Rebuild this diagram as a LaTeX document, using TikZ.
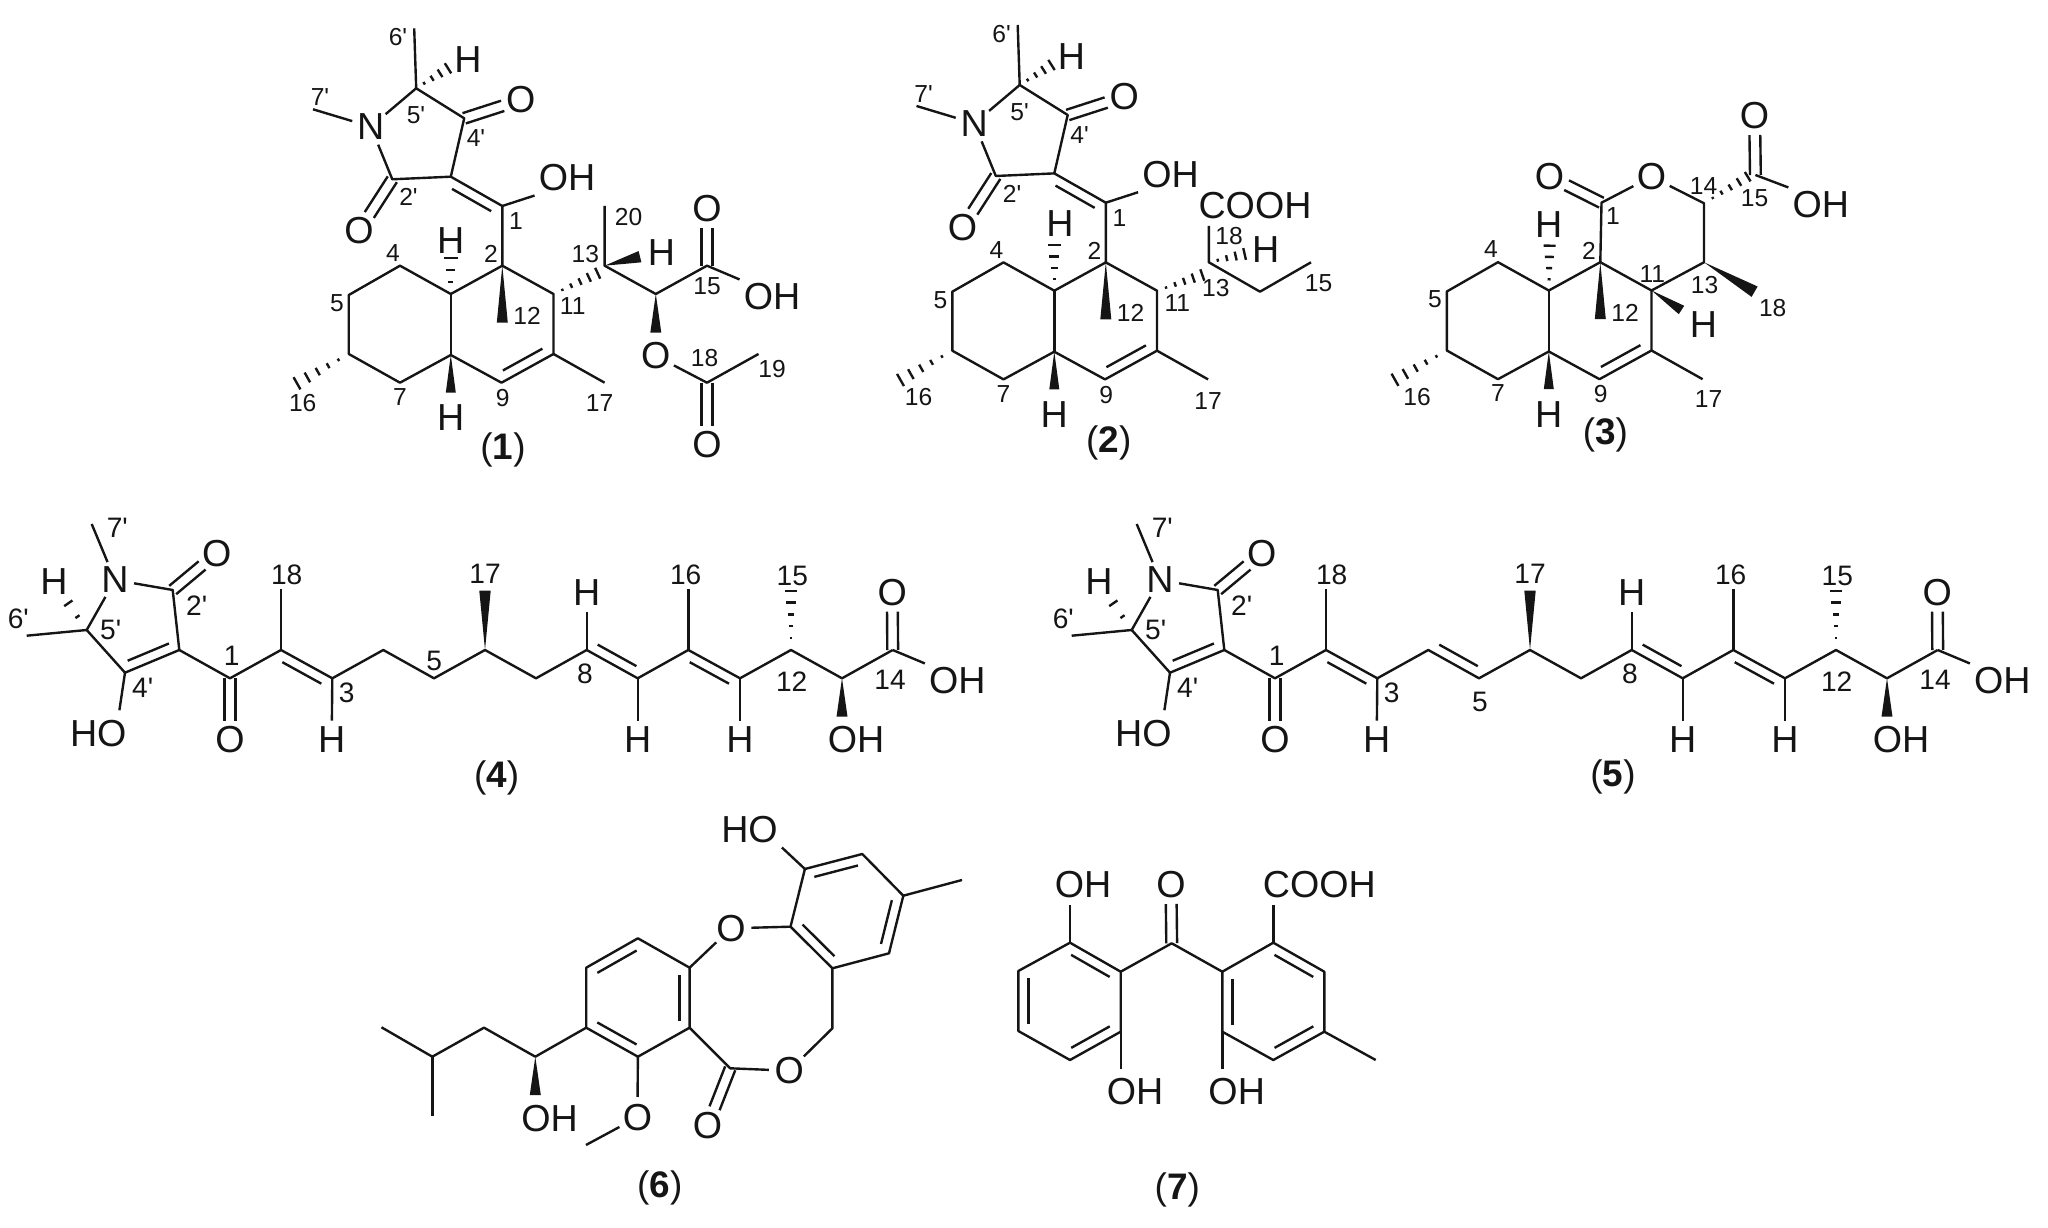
\documentclass[tikz,border=0pt]{standalone}
\usepackage{fontspec}
\newfontfamily\chemfont{Liberation Sans}
\usetikzlibrary{calc}
\definecolor{inkc}{HTML}{151515}
\tikzset{
  bond/.style={line width=0.68pt,line join=round,draw=inkc},
  atom/.style={circle,inner sep=0pt,text=inkc,font=\chemfont\fontsize{10.7}{12}\selectfont},
  atomgroup/.style={rectangle,inner sep=1pt,text=inkc,font=\chemfont\fontsize{10.7}{12}\selectfont},
  numa/.style={inner sep=0pt,text=inkc,font=\chemfont\fontsize{7}{8}\selectfont},
  numb/.style={inner sep=0pt,text=inkc,font=\chemfont\fontsize{8}{9}\selectfont},
  molname/.style={inner sep=0pt,text=inkc,font=\chemfont\fontsize{10.5}{12}\selectfont}
}
% inner line of a double bond, on the left of the way from #1 to #2
\newcommand{\dbl}[2]{\draw[bond] ($(#1)!0.12!(#2)!0.1cm!90:(#2)$) -- ($(#2)!0.12!(#1)!-0.1cm!90:(#1)$);}
\newcommand{\carbonyl}[2]{
  \draw[bond,shorten >=0.19cm] ($(#1)!0.054cm!90:(#2)$) -- ($(#2)!0.054cm!-90:(#1)$);
  \draw[bond,shorten >=0.19cm] ($(#1)!-0.054cm!90:(#2)$) -- ($(#2)!-0.054cm!-90:(#1)$);
}
\newcommand{\wedgeb}[3]{\fill[inkc] (#1) -- ($(#2)!#3!90:(#1)$) -- ($(#2)!-#3!90:(#1)$) -- cycle;}
% from, to, number of dashes, half width in pixels
\newcommand{\hashb}[4]{
  \foreach \i in {1,...,#3}{
    \pgfmathsetmacro{\hpos}{\i/#3}
    \pgfmathsetlengthmacro{\hwid}{\hpos*#4*0.2845pt}
    \draw[bond] ($(#1)!\hpos!(#2)!\hwid!90:(#1)$) -- ($(#1)!\hpos!(#2)!-\hwid!90:(#1)$);
  }
}
\newcommand{\decalin}{
  \coordinate (C5) at (348.8,295);
  \coordinate (C4) at (400,265.7);
  \coordinate (J1) at (450.8,294);
  \coordinate (J2) at (450.8,355);
  \coordinate (C7) at (400,382.7);
  \coordinate (C6) at (348.8,354);
  \coordinate (C2) at (502.3,265.7);
  \coordinate (C11) at (553.5,294);
  \coordinate (C10) at (553.5,354);
  \coordinate (C9) at (501.5,382.7);
  \coordinate (m17) at (604.6,382.7);
  \coordinate (m16) at (297,383.3);
  \coordinate (m12) at (502.3,322.7);
  \coordinate (hJ2) at (450.8,392.7);
  \draw[bond] (C5) -- (C4) -- (J1) -- (C2) -- (C11) -- (C10) -- (C9) -- (J2) -- (C7) -- (C6) -- cycle;
  \draw[bond] (J1) -- (J2);
  \draw[bond] (C10) -- (m17);
  \dbl{C9}{C10}
  \wedgeb{C2}{m12}{0.055cm}
  \wedgeb{J2}{hJ2}{0.05cm}
  \hashb{C6}{m16}{5}{7}
  \node[atom] (HJ2) at (450.8,418) {H};
  \node[numa] (n2) at (491,254) {2};
  \node[numa] (n4) at (393,253) {4};
  \node[numa] (n5) at (337,303) {5};
  \node[numa] (n7) at (400,397) {7};
  \node[numa] (n9) at (502.7,398) {9};
  \node[numa] (n12) at (527,316) {12};
}
\newcommand{\lactam}{
  \coordinate (C1) at (502.3,206);
  \coordinate (C3p) at (450.8,176.7);
  \coordinate (C2p) at (392.3,179.3);
  \coordinate (C5p) at (416.2,88.3);
  \coordinate (C4p) at (464.2,118.3);
  \coordinate (m6) at (414.2,28.3);
  \coordinate (m7) at (313,109.3);
  \coordinate (hC5) at (448,68.3);
  \node[atom] (N1) at (370.8,126.7) {N};
  \node[atom] (O4) at (520.8,100) {O};
  \node[atom] (O2) at (359,231) {O};
  \node[atomgroup] (OH1) at (567,178) {OH};
  \node[atom] (H5) at (468,60) {H};
  \draw[bond] (C2) -- (C1) -- (C3p) -- (C2p) -- (N1) -- (C5p) -- (C4p) -- (C3p);
  \draw[bond] (C5p) -- (m6);
  \draw[bond] (N1) -- (m7);
  \draw[bond] (C1) -- (OH1.south west);
  \dbl{C1}{C3p}
  \carbonyl{C4p}{O4}
  \carbonyl{C2p}{O2}
  \hashb{C5p}{hC5}{4}{6}
  \node[numa] (n6p) at (398,37) {6'};
  \node[numa] (n7p) at (320,97) {7'};
  \node[numa] (n5p) at (416,115) {5'};
  \node[numa] (n4p) at (476,138) {4'};
  \node[numa] (n2p) at (408.5,197) {2'};
  \node[numa] (n1) at (516,221) {1};
}
\newcommand{\polyene}{
  \coordinate (r5) at (86.7,630);
  \coordinate (r2) at (172.7,590);
  \coordinate (r3) at (179.3,650);
  \coordinate (r4) at (125,672.7);
  \coordinate (m6) at (26.7,635.7);
  \coordinate (m7) at (91.7,524);
  \coordinate (hr5) at (68.3,603.3);
  \coordinate (oHO) at (116,733);
  \coordinate (c1) at (230,678.3);
  \coordinate (c2) at (281,650);
  \coordinate (c3) at (332.3,678.3);
  \coordinate (c4) at (383.3,650);
  \coordinate (c5) at (434,678.3);
  \coordinate (c6) at (485,650);
  \coordinate (c7) at (536,678.3);
  \coordinate (c8) at (586.7,650);
  \coordinate (c9) at (637.7,678.3);
  \coordinate (c10) at (688.3,650);
  \coordinate (c11) at (740,678.3);
  \coordinate (c12) at (791,650);
  \coordinate (c13) at (842,678.3);
  \coordinate (c14) at (892.7,650);
  \coordinate (m18) at (281,589.3);
  \coordinate (m17) at (485,590.7);
  \coordinate (m16) at (688.3,589.3);
  \coordinate (m15) at (791,590.7);
  \coordinate (w13) at (842,716.7);
  \node[atom] (N1) at (115,580) {N};
  \node[atom] (O2) at (216.7,553.3) {O};
  \node[atom] (O1) at (230,740) {O};
  \node[atom] (O14) at (892.3,592.7) {O};
  \node[atom] (Hr) at (54,581.7) {H};
  \node[atom] (H3) at (331.7,740) {H};
  \node[atom] (H8) at (586.7,592.7) {H};
  \node[atom] (H9) at (637.7,740) {H};
  \node[atom] (H11) at (740,740) {H};
  \node[atomgroup] (HO4) at (98.3,733.3) {HO};
  \node[atomgroup] (OH13) at (856,740) {OH};
  \node[atomgroup] (OH14) at (957.3,681) {OH};
  \draw[bond] (r5) -- (N1) -- (r2) -- (r3) -- (r4) -- (r5);
  \draw[bond] (r5) -- (m6);
  \draw[bond] (N1) -- (m7);
  \draw[bond,shorten >=0.23cm] (r4) -- (oHO);
  \draw[bond] (r3) -- (c1) -- (c2) -- (c3) -- (c4) -- (c5) -- (c6) -- (c7) -- (c8) -- (c9) -- (c10) -- (c11) -- (c12) -- (c13) -- (c14);
  \draw[bond] (c2) -- (m18);
  \draw[bond] (c3) -- (H3);
  \draw[bond] (c8) -- (H8);
  \draw[bond] (c9) -- (H9);
  \draw[bond] (c10) -- (m16);
  \draw[bond] (c11) -- (H11);
  \draw[bond] (c14) -- (OH14.north west);
  \dbl{r4}{r3}
  \dbl{c3}{c2}
  \dbl{c8}{c9}
  \dbl{c11}{c10}
  \carbonyl{r2}{O2}
  \carbonyl{c1}{O1}
  \carbonyl{c14}{O14}
  \hashb{r5}{hr5}{2}{5}
  \hashb{c12}{m15}{5}{5.7}
  \wedgeb{c6}{m17}{0.057cm}
  \wedgeb{c13}{w13}{0.055cm}
  \node[numb] (n6p) at (18.3,619) {6'};
  \node[numb] (n7p) at (117.3,528) {7'};
  \node[numb] (n5p) at (110.7,630) {5'};
  \node[numb] (n4p) at (142.7,688) {4'};
  \node[numb] (n2p) at (196.7,606) {2'};
  \node[numb] (n1) at (231.7,656) {1};
  \node[numb] (n18) at (286.7,575) {18};
  \node[numb] (n3) at (346.7,693) {3};
  \node[numb] (n17) at (485,574) {17};
  \node[numb] (n8) at (585,674) {8};
  \node[numb] (n16) at (685.7,575) {16};
  \node[numb] (n15) at (792.3,576) {15};
  \node[numb] (n12) at (791.7,681.7) {12};
  \node[numb] (n14) at (890,680) {14};
}
\begin{document}
\begin{tikzpicture}[x=0.01cm,y=-0.01cm]
  \useasboundingbox (0,0) rectangle (2048,1228);

  % compound 1
  \decalin
  \lactam
  \coordinate (C13) at (604.6,265.7);
  \coordinate (m20) at (604.6,206);
  \coordinate (C14) at (655.8,294);
  \coordinate (C15) at (707,265.7);
  \coordinate (C18) at (707,382.7);
  \coordinate (m19) at (758.5,354);
  \coordinate (h13) at (597.7,273.3);
  \coordinate (w13) at (640,256.7);
  \coordinate (w14) at (655.8,332.7);
  \node[atom] (Ha) at (450.8,241) {H};
  \node[atom] (Hb) at (661.5,252.7) {H};
  \node[atom] (Oa) at (707,209) {O};
  \node[atom] (Ob) at (655.8,356) {O};
  \node[atom] (Oc) at (707,445) {O};
  \node[atomgroup] (OHa) at (772,297) {OH};
  \coordinate (hJ1) at (450.8,258);
  \hashb{J1}{hJ1}{3}{7}
  \hashb{C11}{h13}{5}{6}
  \draw[bond] (m20) -- (C13) -- (C14) -- (C15) -- (OHa.north west);
  \draw[bond] (Ob) -- (C18) -- (m19);
  \carbonyl{C15}{Oa}
  \carbonyl{C18}{Oc}
  \wedgeb{C13}{w13}{0.058cm}
  \wedgeb{C14}{w14}{0.055cm}
  \node[numa] (a11) at (572.7,306) {11};
  \node[numa] (a13) at (585.4,254) {13};
  \node[numa] (a15) at (707,286) {15};
  \node[numa] (a16) at (302.7,403) {16};
  \node[numa] (a17) at (599.6,403) {17};
  \node[numa] (a18) at (704.6,358) {18};
  \node[numa] (a19) at (772,369) {19};
  \node[numa] (a20) at (628.5,217) {20};
  \node[molname] (mol1) at (503,450) {(\textbf{1})};

  % compound 2
  \begin{scope}[shift={(603.5,-3.3)}]
    \decalin
    \lactam
  \end{scope}
  \coordinate (C13) at (1208.8,262.3);
  \coordinate (C14) at (1260,291.7);
  \coordinate (C15) at (1311,262.3);
  \coordinate (c18) at (1208.8,226);
  \coordinate (h13) at (1202.3,275);
  \coordinate (hH) at (1244.6,254);
  \coordinate (hJ1) at (1054.3,245);
  \node[atomgroup] (COOHb) at (1255,205.7) {COOH};
  \node[atom] (Hc) at (1060,224) {H};
  \node[atom] (Hd) at (1265.8,250) {H};
  \hashb{J1}{hJ1}{4}{6.5}
  \hashb{C11}{h13}{5}{6}
  \hashb{C13}{hH}{4}{6}
  \draw[bond] (c18) -- (C13) -- (C14) -- (C15);
  \node[numa] (b11) at (1177.3,302.7) {11};
  \node[numa] (b13) at (1215.8,288) {13};
  \node[numa] (b15) at (1318.5,283) {15};
  \node[numa] (b16) at (918.5,396.7) {16};
  \node[numa] (b17) at (1208,401) {17};
  \node[numa] (b18) at (1229,236) {18};
  \node[molname] (mol2) at (1108.8,443) {(\textbf{2})};

  % compound 3
  \begin{scope}[shift={(1098,-3.5)}]
    \decalin
  \end{scope}
  \coordinate (C1) at (1601.5,202.7);
  \coordinate (C14) at (1704,203.3);
  \coordinate (C13) at (1704,262.3);
  \coordinate (C15) at (1755.4,175);
  \coordinate (w18) at (1754.6,291.7);
  \coordinate (wH) at (1681.5,310);
  \coordinate (hC) at (1747.7,176.7);
  \coordinate (hJ1) at (1549.6,245.7);
  \node[atom] (Od) at (1549.6,176.7) {O};
  \node[atom] (Oe) at (1651.5,176.7) {O};
  \node[atom] (Of) at (1754.6,116) {O};
  \node[atomgroup] (OHc) at (1820.8,205) {OH};
  \node[atom] (He) at (1548.8,225) {H};
  \node[atom] (Hf) at (1703.5,325) {H};
  \draw[bond] (C2) -- (C1) -- (Oe) -- (C14) -- (C13) -- (C11);
  \draw[bond] (C15) -- (OHc.north west);
  \carbonyl{C1}{Od}
  \carbonyl{C15}{Of}
  \hashb{J1}{hJ1}{4}{6}
  \hashb{C14}{hC}{5}{5.5}
  \wedgeb{C13}{w18}{0.06cm}
  \wedgeb{C11}{wH}{0.05cm}
  \node[numa] (c1n) at (1613,216) {1};
  \node[numa] (c11n) at (1652.3,274) {11};
  \node[numa] (c13n) at (1704.6,285) {13};
  \node[numa] (c14n) at (1703.5,186) {14};
  \node[numa] (c15n) at (1754.6,198) {15};
  \node[numa] (c16n) at (1417,396.7) {16};
  \node[numa] (c17n) at (1708.5,399) {17};
  \node[numa] (c18n) at (1772.7,307.7) {18};
  \node[molname] (mol3) at (1605.4,435) {(\textbf{3})};

  % compounds 4 and 5
  \polyene
  \node[numb] (d5) at (434.3,660.7) {5};
  \node[molname] (mol4) at (496.7,778) {(\textbf{4})};
  \begin{scope}[shift={(1045,0)}]
    \polyene
    \dbl{c4}{c5}
    \node[numb] (e5) at (435,701.7) {5};
  \end{scope}
  \node[molname] (mol5) at (1613,776.7) {(\textbf{5})};

  % compound 6
  \coordinate (a1) at (637.9,938.3);
  \coordinate (a2) at (586.2,967.7);
  \coordinate (a3) at (586.2,1027.7);
  \coordinate (a4) at (637.9,1056.7);
  \coordinate (a5) at (689.6,1027.7);
  \coordinate (a6) at (689.6,967.7);
  \coordinate (b1) at (790.5,926.7);
  \coordinate (b2) at (804.9,869);
  \coordinate (b3) at (862.3,854);
  \coordinate (b4) at (903.3,895.7);
  \coordinate (b5) at (889,953.3);
  \coordinate (b6) at (832.4,968.3);
  \coordinate (me2) at (962,880);
  \coordinate (ch2) at (832.4,1028.3);
  \coordinate (cc) at (730.2,1068.3);
  \coordinate (me) at (586,1145);
  \coordinate (s1) at (535.3,1056.7);
  \coordinate (s2) at (484,1027.7);
  \coordinate (s3) at (432.3,1056.7);
  \coordinate (s4) at (381.5,1027.3);
  \coordinate (s5) at (432.3,1116);
  \coordinate (ws) at (535.3,1095);
  \node[atom] (Obr) at (731,928.3) {O};
  \node[atom] (Oes) at (789.3,1070.7) {O};
  \node[atom] (Oco) at (707.6,1126) {O};
  \node[atom] (Ome) at (637.4,1117.3) {O};
  \node[atomgroup] (HOg) at (749.5,830) {HO};
  \node[atomgroup] (OHg) at (549.6,1118.3) {OH};
  \draw[bond] (a1) -- (a2) -- (a3) -- (a4) -- (a5) -- (a6) -- cycle;
  \draw[bond] (b1) -- (b2) -- (b3) -- (b4) -- (b5) -- (b6) -- cycle;
  \draw[bond] (a6) -- (Obr) -- (b1);
  \draw[bond] (b6) -- (ch2) -- (Oes) -- (cc) -- (a5);
  \draw[bond] (a4) -- (Ome) -- (me);
  \draw[bond] (a3) -- (s1) -- (s2) -- (s3) -- (s4);
  \draw[bond] (s3) -- (s5);
  \draw[bond] (b4) -- (me2);
  \draw[bond] (b2) -- (HOg.south east);
  \dbl{a1}{a2}
  \dbl{a3}{a4}
  \dbl{a5}{a6}
  \dbl{b1}{b6}
  \dbl{b3}{b2}
  \dbl{b5}{b4}
  \carbonyl{cc}{Oco}
  \wedgeb{s1}{ws}{0.055cm}
  \node[molname] (mol6) at (659.8,1188) {(\textbf{6})};

  % compound 7
  \coordinate (r1) at (1070,942.7);
  \coordinate (r2) at (1120.7,971.7);
  \coordinate (r3) at (1120.7,1031.7);
  \coordinate (r4) at (1070,1060);
  \coordinate (r5) at (1018.3,1031);
  \coordinate (r6) at (1018.3,971);
  \coordinate (co) at (1171.7,943.3);
  \coordinate (q1) at (1222.3,971.7);
  \coordinate (q2) at (1273.3,942.7);
  \coordinate (q3) at (1324.3,971.7);
  \coordinate (q4) at (1324.3,1031.7);
  \coordinate (q5) at (1273.3,1060);
  \coordinate (q6) at (1222.3,1031.7);
  \coordinate (me3) at (1375.7,1060);
  \coordinate (e1) at (1070,905);
  \coordinate (e2) at (1273.3,905);
  \coordinate (e3) at (1120.7,1069.3);
  \coordinate (e4) at (1222.3,1069.3);
  \node[atom] (Ok) at (1171,885) {O};
  \node[atomgroup] (OHh) at (1083,885) {OH};
  \node[atomgroup] (COOHh) at (1319.3,885) {COOH};
  \node[atomgroup] (OHi) at (1135,1091.7) {OH};
  \node[atomgroup] (OHj) at (1236.7,1091.7) {OH};
  \draw[bond] (r1) -- (r2) -- (r3) -- (r4) -- (r5) -- (r6) -- cycle;
  \draw[bond] (q1) -- (q2) -- (q3) -- (q4) -- (q5) -- (q6) -- cycle;
  \draw[bond] (r2) -- (co) -- (q1);
  \draw[bond] (r1) -- (e1);
  \draw[bond] (q2) -- (e2);
  \draw[bond] (r3) -- (e3);
  \draw[bond] (q6) -- (e4);
  \draw[bond] (q4) -- (me3);
  \dbl{r2}{r1}
  \dbl{r4}{r3}
  \dbl{r6}{r5}
  \dbl{q1}{q6}
  \dbl{q3}{q2}
  \dbl{q5}{q4}
  \carbonyl{co}{Ok}
  \node[molname] (mol7) at (1177.3,1190) {(\textbf{7})};
\end{tikzpicture}
\end{document}
